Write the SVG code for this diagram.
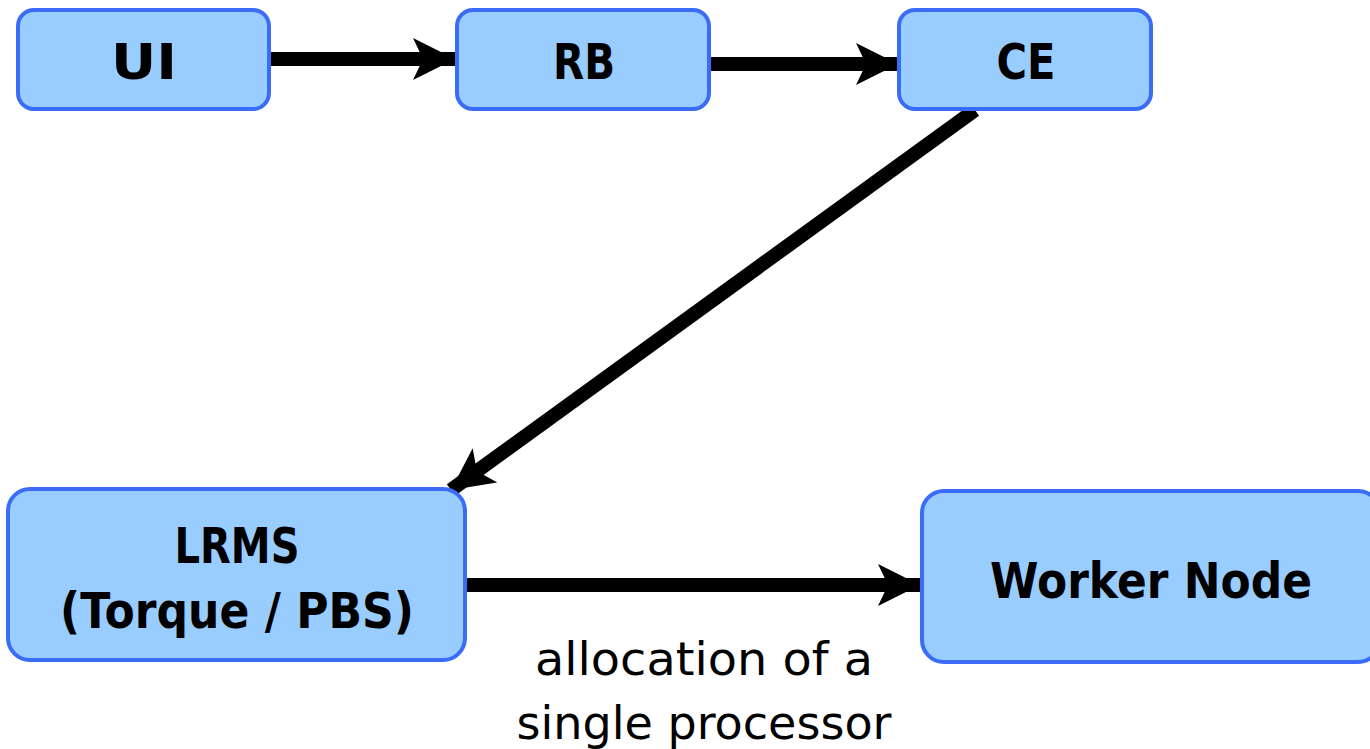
<svg xmlns="http://www.w3.org/2000/svg" width="1370" height="749" viewBox="0 0 1370 749">
<style>
.box{fill:#99ccff;stroke:#3a6cf7;stroke-width:4}
.lbl{font-family:"DejaVu Sans",sans-serif;font-weight:bold;font-size:50px;fill:#000;text-anchor:middle}
.note{font-family:"DejaVu Sans",sans-serif;font-size:47px;fill:#000;text-anchor:middle}
.edge{stroke:#000;stroke-width:14;fill:none}
</style>
<defs>
<marker id="ah" markerUnits="userSpaceOnUse" markerWidth="44" markerHeight="44" refX="42" refY="21" orient="auto" viewBox="0 0 44 44">
<path d="M0,0 L42,21 L0,42 L10,21 z" fill="#000"/>
</marker>
</defs>
<g id="connectors">
<line class="edge" x1="269" y1="59" x2="455" y2="59" marker-end="url(#ah)"/>
<line class="edge" x1="709" y1="64" x2="898" y2="64" marker-end="url(#ah)"/>
<line class="edge" x1="975" y1="110" x2="451" y2="490" marker-end="url(#ah)"/>
<line class="edge" x1="466" y1="585" x2="920" y2="585" marker-end="url(#ah)"/>
</g>
<g id="UI"><rect class="box" x="18" y="10" width="251" height="99" rx="16"/><text class="lbl" x="144" y="79" textLength="66" lengthAdjust="spacingAndGlyphs">UI</text></g>
<g id="RB"><rect class="box" x="457" y="10" width="252" height="99" rx="16"/><text class="lbl" x="584" y="79" textLength="62" lengthAdjust="spacingAndGlyphs">RB</text></g>
<g id="CE"><rect class="box" x="899" y="10" width="252" height="99" rx="16"/><text class="lbl" x="1026" y="79" textLength="59" lengthAdjust="spacingAndGlyphs">CE</text></g>
<g id="LRMS"><rect class="box" x="8" y="489" width="457" height="171" rx="22"/><text class="lbl" x="237" y="563" textLength="125" lengthAdjust="spacingAndGlyphs">LRMS</text><text class="lbl" x="237" y="628" textLength="354" lengthAdjust="spacingAndGlyphs">(Torque / PBS)</text></g>
<g id="WorkerNode"><rect class="box" x="922" y="491" width="458" height="171" rx="22"/><text class="lbl" x="1151" y="598" textLength="322" lengthAdjust="spacingAndGlyphs">Worker Node</text></g>
<g id="label"><text class="note" x="704" y="675" textLength="338" lengthAdjust="spacingAndGlyphs">allocation of a</text><text class="note" x="704" y="739" textLength="375" lengthAdjust="spacingAndGlyphs">single processor</text></g>
</svg>
